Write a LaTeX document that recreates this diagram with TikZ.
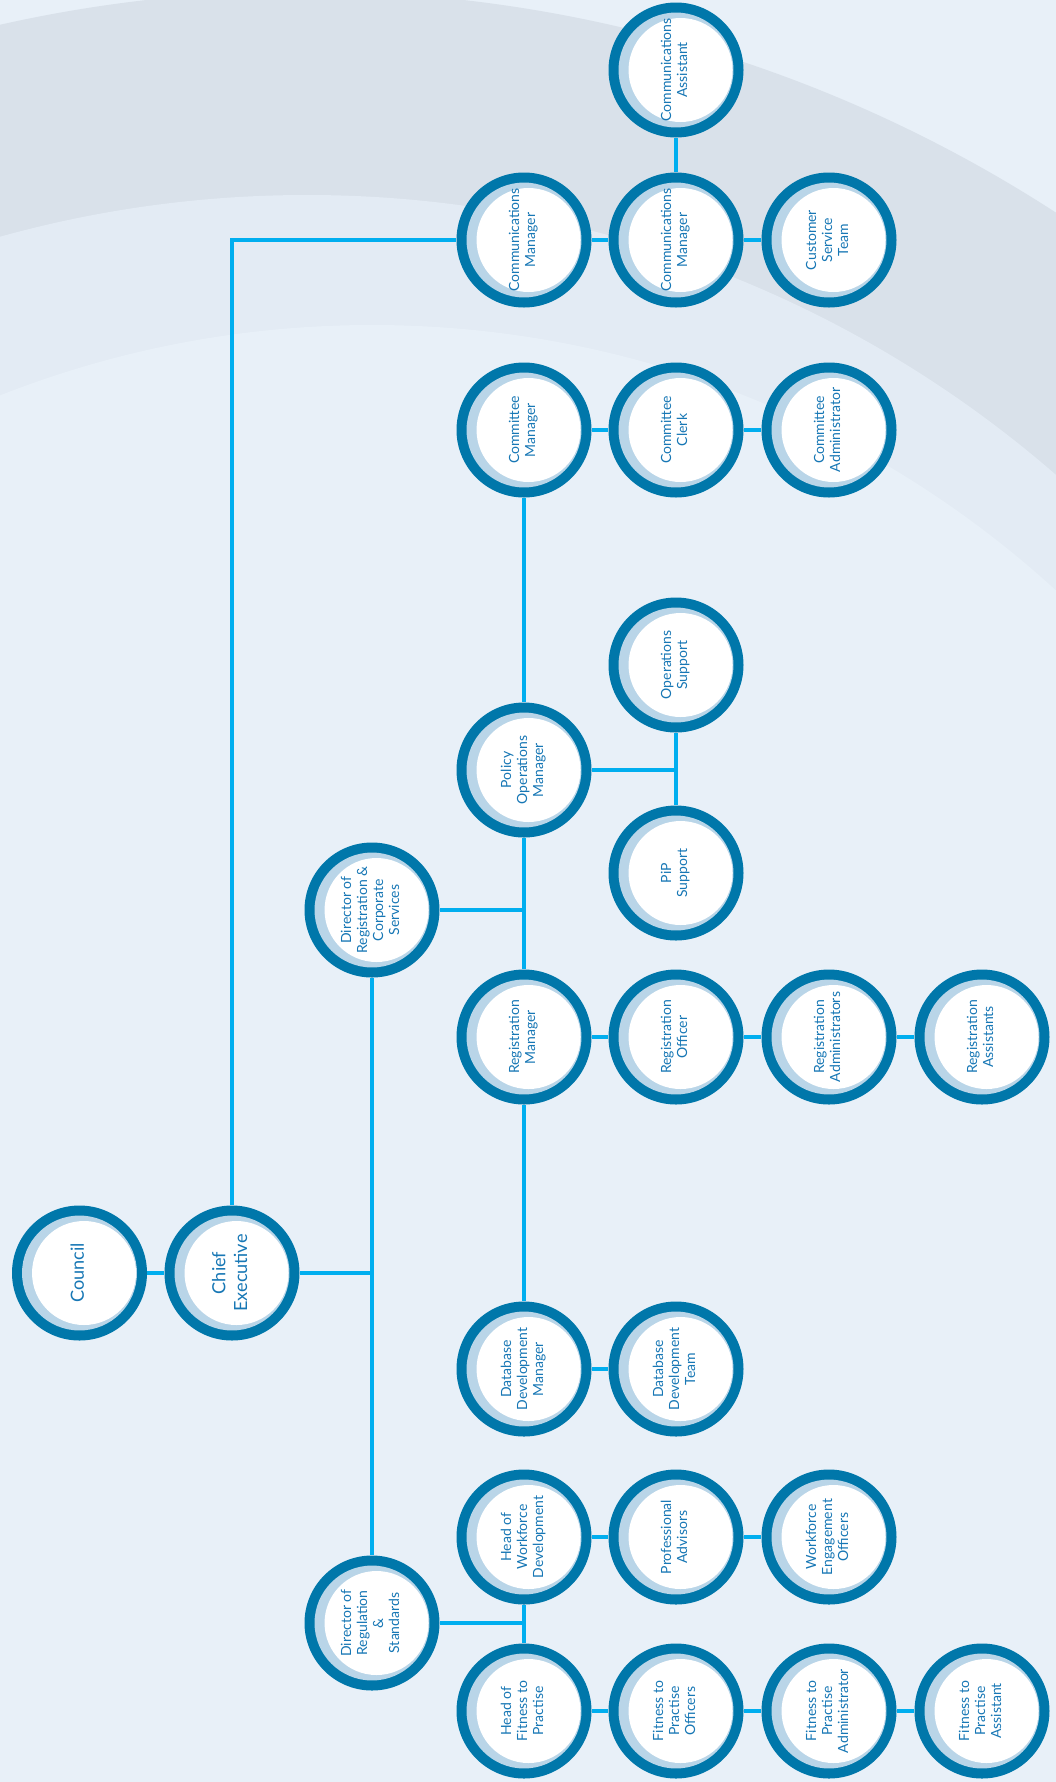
\documentclass[tikz,border=0pt]{standalone}
\usepackage{graphicx}
\usepackage{fontspec}
\setmainfont{Lato}

\definecolor{paper}{HTML}{E8F0F8}
\definecolor{bandouter}{HTML}{D9E1EA}
\definecolor{bandinner}{HTML}{E3EBF4}
\definecolor{ringdark}{HTML}{0077AA}
\definecolor{ringlight}{HTML}{B9D5E8}
\definecolor{connblue}{HTML}{00AEEF}
\definecolor{ink}{HTML}{1777B5}

% role titles are set as a centred block turned to read upwards
\newcommand{\rolelines}[1]{\rotatebox{90}{\begin{tabular}{@{}c@{}}#1\end{tabular}}}

\tikzset{
  role/.style={circle, inner sep=0pt, minimum size=101.25pt, fill=ringdark,
    text=ink, font=\fontsize{10.5}{12}\selectfont,
    path picture={
      \fill[ringlight] (path picture bounding box.center) circle[radius=43.1pt];
      \fill[white] ([xshift=3.4pt]path picture bounding box.center) circle[radius=39pt];
    }},
  bigrole/.style={role, font=\fontsize{13.6}{16.3}\selectfont},
  conn/.style={draw=connblue, line width=3pt}
}

\begin{document}
\begin{tikzpicture}[x=0.75pt, y=-0.75pt]
\useasboundingbox (0,0) rectangle (1056,1782);

% background with sweeping bands
\begin{scope}
  \clip (0,0) rectangle (1056,1782);
  \fill[paper] (0,0) rectangle (1056,1782);
  \fill[bandouter] (305,1373) circle[radius=1036.5pt];
  \fill[bandinner] (307,1337) circle[radius=856.5pt];
  \fill[paper] (372,1339) circle[radius=760.5pt];
\end{scope}

% top of the organisation
\node[bigrole] (council) at (79.5,1273) {\rolelines{Council}};
\node[bigrole] (ce) at (232,1273) {\rolelines{Chief\\Executive}};

% directors
\node[role] (drc) at (372,910) {\rolelines{Director of\\Registration \&\\Corporate\\Services}};
\node[role] (drs) at (372,1623) {\rolelines{Director of\\Regulation\\\&\\Standards}};

% communications
\node[role] (cm1) at (524,240) {\rolelines{Communications\\Manager}};
\node[role] (cm2) at (676,240) {\rolelines{Communications\\Manager}};
\node[role] (ca)  at (676,70)  {\rolelines{Communications\\Assistant}};
\node[role] (cst) at (829,240) {\rolelines{Customer\\Service\\Team}};

% committee
\node[role] (cmm) at (524,430) {\rolelines{Committee\\Manager}};
\node[role] (cc)  at (676,430) {\rolelines{Committee\\Clerk}};
\node[role] (cad) at (829,430) {\rolelines{Committee\\Administrator}};

% policy operations
\node[role] (pom) at (524,770) {\rolelines{Policy\\Operations\\Manager}};
\node[role] (ops) at (676,665) {\rolelines{Operations\\Support}};
\node[role] (pip) at (676,873) {\rolelines{PiP\\Support}};

% registration
\node[role] (rm)  at (524,1037) {\rolelines{Registration\\Manager}};
\node[role] (ro)  at (676,1037) {\rolelines{Registration\\Officer}};
\node[role] (rad) at (829,1037) {\rolelines{Registration\\Administrators}};
\node[role] (ras) at (982,1037) {\rolelines{Registration\\Assistants}};

% database development
\node[role] (ddm) at (524,1369) {\rolelines{Database\\Development\\Manager}};
\node[role] (ddt) at (676,1369) {\rolelines{Database\\Development\\Team}};

% workforce development
\node[role] (hwd) at (524,1537) {\rolelines{Head of\\Workforce\\Development}};
\node[role] (pa)  at (676,1537) {\rolelines{Professional\\Advisors}};
\node[role] (weo) at (829,1537) {\rolelines{Workforce\\Engagement\\Officers}};

% fitness to practise
\node[role] (hftp) at (524,1711) {\rolelines{Head of\\Fitness to\\Practise}};
\node[role] (fto)  at (676,1711) {\rolelines{Fitness to\\Practise\\Officers}};
\node[role] (fta)  at (829,1711) {\rolelines{Fitness to\\Practise\\Administrator}};
\node[role] (ftas) at (982,1711) {\rolelines{Fitness to\\Practise\\Assistant}};

% reporting lines
\draw[conn] (council) -- (ce);
\draw[conn] (ce) |- (cm1);
\draw[conn] (ce) -- (ce -| drc);
\draw[conn] (drc) -- (drs);
\draw[conn] (drc) -- (drc -| pom);
\draw[conn] (cmm) -- (pom);
\draw[conn] (pom) -- (rm);
\draw[conn] (rm) -- (ddm);
\draw[conn] (pom) -- (pom -| ops);
\draw[conn] (ops) -- (pip);
\draw[conn] (cm1) -- (cm2) -- (cst);
\draw[conn] (ca) -- (cm2);
\draw[conn] (cmm) -- (cc) -- (cad);
\draw[conn] (rm) -- (ro) -- (rad) -- (ras);
\draw[conn] (ddm) -- (ddt);
\draw[conn] (drs) -- (drs -| hwd);
\draw[conn] (hwd) -- (hftp);
\draw[conn] (hwd) -- (pa) -- (weo);
\draw[conn] (hftp) -- (fto) -- (fta) -- (ftas);
\end{tikzpicture}
\end{document}
